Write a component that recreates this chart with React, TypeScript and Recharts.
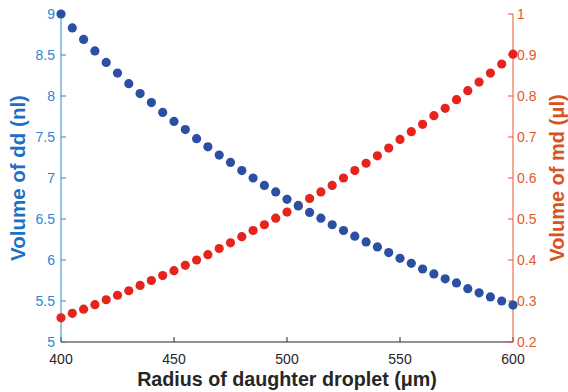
import { ScatterChart, Scatter, XAxis, YAxis, Label } from "recharts";

// Radius of daughter droplet (μm)
const radii = [
  400, 405, 410, 415, 420, 425, 430, 435, 440, 445, 450, 455, 460, 465, 470, 475, 480, 485, 490, 495, 500,
  505, 510, 515, 520, 525, 530, 535, 540, 545, 550, 555, 560, 565, 570, 575, 580, 585, 590, 595, 600,
];

// Volume of dd (nl), left axis
const volumeDd = [
  9.0, 8.83, 8.69, 8.55, 8.41, 8.28, 8.15, 8.03, 7.92, 7.8, 7.69, 7.59, 7.48, 7.38, 7.28, 7.19, 7.09, 7.0, 6.91,
  6.83, 6.74, 6.66, 6.58, 6.51, 6.43, 6.36, 6.29, 6.22, 6.16, 6.09, 6.02, 5.96, 5.89, 5.83, 5.77, 5.72, 5.65,
  5.6, 5.55, 5.5, 5.45,
];

// Volume of md (μl), right axis
const volumeMd = [
  0.259, 0.27, 0.28, 0.291, 0.303, 0.314, 0.325, 0.338, 0.35, 0.362, 0.374, 0.387, 0.4, 0.413, 0.428, 0.442,
  0.457, 0.472, 0.486, 0.502, 0.517, 0.533, 0.55, 0.566, 0.582, 0.6, 0.618, 0.636, 0.654, 0.673, 0.694, 0.713,
  0.731, 0.752, 0.77, 0.791, 0.813, 0.834, 0.856, 0.878, 0.902,
];

const xTicks = [400, 450, 500, 550, 600];
const leftTicks = [5, 5.5, 6, 6.5, 7, 7.5, 8, 8.5, 9];
const rightTicks = [0.2, 0.3, 0.4, 0.5, 0.6, 0.7, 0.8, 0.9, 1];

const FONT = "'Liberation Sans', Arial, Helvetica, sans-serif";
const AXIS_DARK = "#262626";
const LEFT_COLOR = "#2C86D2";
const RIGHT_COLOR = "#E5582B";
const LEFT_LABEL = "#1D70C2";
const RIGHT_LABEL = "#D9531E";
const BLUE_DOT = "#2B4FA3";
const RED_DOT = "#E7231E";

const ddData = radii.map((r, i) => ({ r, v: volumeDd[i] }));
const mdData = radii.map((r, i) => ({ r, v: volumeMd[i] }));

const dot = (color: string) => (props: any) =>
  <circle cx={props.cx} cy={props.cy} r={4.6} fill={color} />;

export default function App() {
  return (
    <div style={{ position: "absolute", left: 0, top: 0, background: "#fff", fontFamily: FONT }}>
      <ScatterChart width={568} height={392} margin={{ top: 14, right: 0, bottom: 0, left: 0 }}>
        <XAxis
          xAxisId="top"
          orientation="top"
          type="number"
          dataKey="r"
          domain={[400, 600]}
          ticks={xTicks}
          height={0}
          tick={false}
          tickSize={-5}
          stroke={AXIS_DARK}
          axisLine={{ stroke: AXIS_DARK, strokeWidth: 1 }}
        />
        <XAxis
          xAxisId="bottom"
          type="number"
          dataKey="r"
          domain={[400, 600]}
          ticks={xTicks}
          height={50}
          tickSize={-5}
          tickMargin={17}
          stroke={AXIS_DARK}
          tick={{ fill: AXIS_DARK, fontSize: 14, fontFamily: FONT }}
        >
          <Label
            value="Radius of daughter droplet (μm)"
            position="insideBottom"
            offset={6}
            style={{ fontSize: 19.7, fontWeight: "bold", fill: AXIS_DARK, fontFamily: FONT }}
          />
        </XAxis>
        <YAxis
          yAxisId="left"
          type="number"
          dataKey="v"
          domain={[5, 9]}
          ticks={leftTicks}
          width={61}
          tickSize={-5}
          tickMargin={11}
          stroke={LEFT_COLOR}
          tick={{ fill: LEFT_COLOR, fontSize: 14, fontFamily: FONT }}
        >
          <Label
            value="Volume of dd (nl)"
            angle={-90}
            position="insideLeft"
            offset={17.5}
            style={{ textAnchor: "middle", fontSize: 20.5, fontWeight: "bold", fill: LEFT_LABEL, fontFamily: FONT }}
          />
        </YAxis>
        <YAxis
          yAxisId="right"
          orientation="right"
          type="number"
          dataKey="v"
          domain={[0.2, 1]}
          ticks={rightTicks}
          width={55}
          tickSize={-5}
          tickMargin={9}
          stroke={RIGHT_COLOR}
          tick={{ fill: RIGHT_COLOR, fontSize: 14, fontFamily: FONT }}
        >
          <Label
            value="Volume of md (μl)"
            angle={-90}
            position="insideRight"
            offset={11.5}
            style={{ textAnchor: "middle", fontSize: 20, fontWeight: "bold", fill: RIGHT_LABEL, fontFamily: FONT }}
          />
        </YAxis>
        <Scatter
          data={mdData}
          xAxisId="bottom"
          yAxisId="right"
          fill={RED_DOT}
          shape={dot(RED_DOT)}
          isAnimationActive={false}
        />
        <Scatter
          data={ddData}
          xAxisId="bottom"
          yAxisId="left"
          fill={BLUE_DOT}
          shape={dot(BLUE_DOT)}
          isAnimationActive={false}
        />
      </ScatterChart>
    </div>
  );
}
